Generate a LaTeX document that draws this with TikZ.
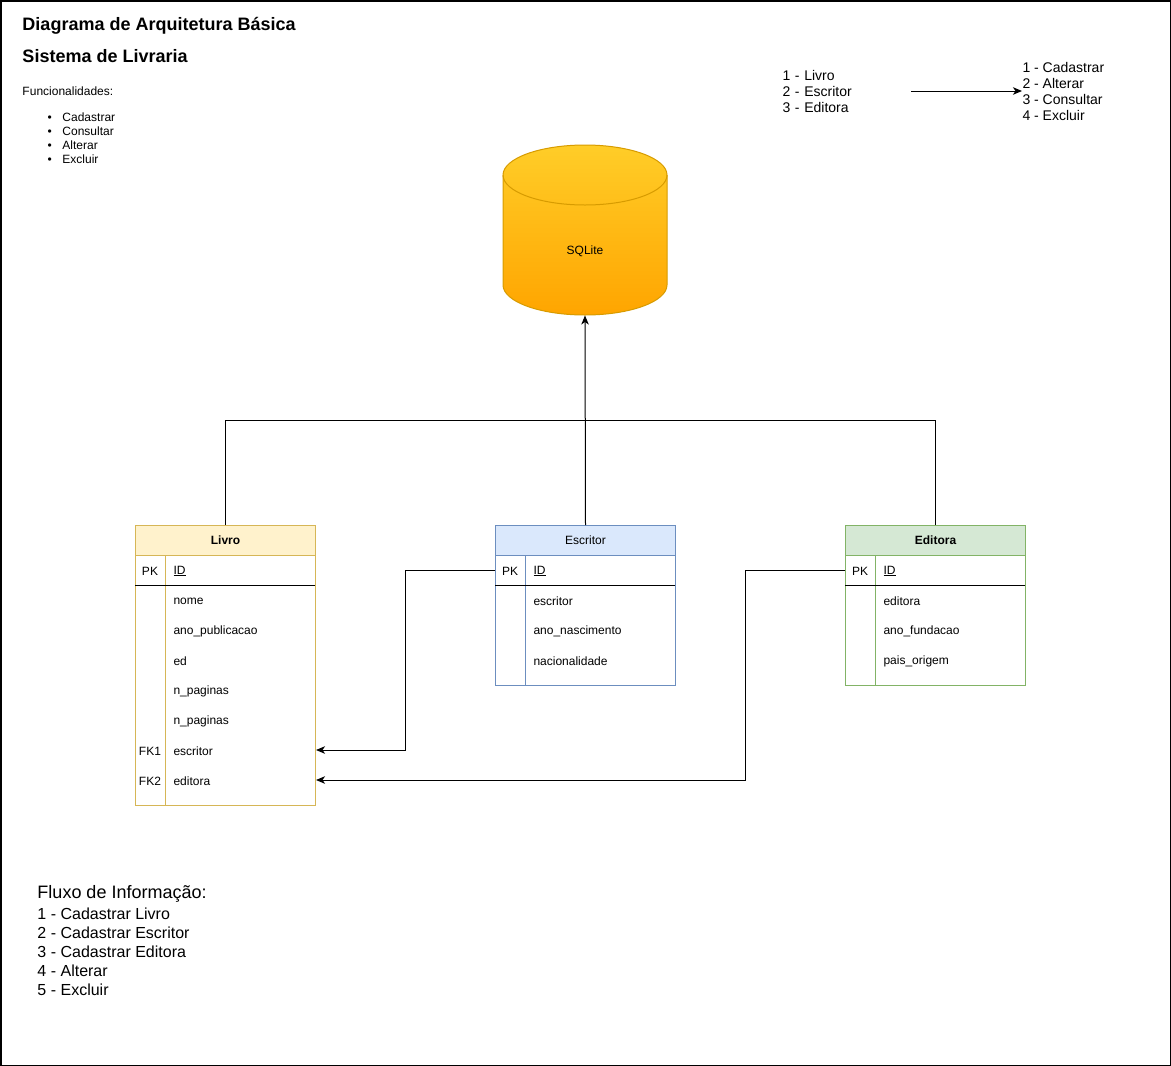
\documentclass[tikz,border=0pt]{standalone}
\usepackage{fontspec}
\setmainfont{Liberation Sans}
\usetikzlibrary{arrows.meta}
\definecolor{livroFill}{HTML}{FFF2CC}
\definecolor{livroLine}{HTML}{D6B656}
\definecolor{escFill}{HTML}{DAE8FC}
\definecolor{escLine}{HTML}{6C8EBF}
\definecolor{editFill}{HTML}{D5E8D4}
\definecolor{editLine}{HTML}{82B366}
\definecolor{dbTop}{HTML}{FFCD28}
\definecolor{dbBot}{HTML}{FFA500}
\definecolor{dbLine}{HTML}{D79B00}
\newcommand{\txtA}{\fontsize{12}{14}\selectfont}
\begin{document}
\begin{tikzpicture}[x=1pt,y=-1pt,line width=1pt,
  every node/.style={inner sep=0pt, font=\txtA},
  tblbody/.style={draw, fill=white, anchor=north west, minimum width=180pt},
  tblhead/.style={draw, anchor=north west, minimum width=180pt, minimum height=30pt, text depth=1pt},
  fld/.style={anchor=west, yshift=-1pt},
  keycol/.style={anchor=center, text height=10.6pt, text depth=0pt},
  link/.style={draw=black, line width=1pt},
  arr/.style={link, -{Stealth[length=9pt,width=7.5pt,inset=2.5pt]}},
  heading/.style={anchor=west, yshift=-2pt, font=\fontsize{18}{20}\selectfont\bfseries},
]
\useasboundingbox (0,0) rectangle (1171,1066);
\draw[line width=1.5pt] (0.75,0.75) rectangle (1170.25,1065.25);

% headings and feature list
\node[heading] (title) at (22,24) {Diagrama de Arquitetura Básica};
\node[heading] (subtitle) at (22,54) {Sistema de Livraria};
\node[anchor=west, yshift=-1pt] (funcs) at (22,90) {Funcionalidades:};
\node[anchor=west, align=left, yshift=-1pt, font=\txtA] (funclist) at (47,137)
  {\makebox[15pt][l]{\textbullet}Cadastrar\\
   \makebox[15pt][l]{\textbullet}Consultar\\
   \makebox[15pt][l]{\textbullet}Alterar\\
   \makebox[15pt][l]{\textbullet}Excluir};

% entities and operations
\node[anchor=west, align=left, text width=128pt, font=\fontsize{14}{16}\selectfont] (ents) at (782,91)
  {1 - Livro\\2 - Escritor\\3 - Editora};
\node[anchor=west, align=left, font=\fontsize{14}{16}\selectfont] (ops) at (1022,91)
  {1 - Cadastrar\\2 - Alterar\\3 - Consultar\\4 - Excluir};
\draw[arr] (ents.east) -- (ops.west);

% database cylinder
\shadedraw[top color=dbTop, bottom color=dbBot, draw=dbLine]
  (503,175) -- (503,285)
  .. controls (503,301.57) and (539.71,315) .. (585,315)
  .. controls (630.29,315) and (667,301.57) .. (667,285)
  -- (667,175)
  .. controls (667,158.43) and (630.29,145) .. (585,145)
  .. controls (539.71,145) and (503,158.43) .. (503,175) -- cycle;
\draw[dbLine] (503,175) .. controls (503,191.57) and (539.71,205) .. (585,205)
  .. controls (630.29,205) and (667,191.57) .. (667,175);
\node[minimum width=164pt, minimum height=170pt] (db) at (585,230) {};
\node[yshift=-1pt] (dblabel) at (585,250) {SQLite};

% table Livro
\node[tblbody, draw=livroLine, minimum height=280pt] (livro) at (135,525) {};
\node[tblhead, fill=livroFill, draw=livroLine, font=\txtA\bfseries] (livro-h) at (135,525) {Livro};
\draw[livroLine] (165,555) -- (165,805);
\draw[black] (135,585) -- (315,585);
\node[keycol] (livro-pk) at (150,570) {PK};
\node[fld] (livro-id) at (173,570) {\underline{ID}};
\node[fld] (livro-f1) at (173,600) {nome};
\node[fld] (livro-f2) at (173,630) {ano\_publicacao};
\node[fld] (livro-f3) at (173,660) {ed};
\node[fld] (livro-f4) at (173,690) {n\_paginas};
\node[fld] (livro-f5) at (173,720) {n\_paginas};
\node[keycol] (livro-fk1) at (150,750) {FK1};
\node[fld] (livro-f6) at (173,750) {escritor};
\node[keycol] (livro-fk2) at (150,780) {FK2};
\node[fld] (livro-f7) at (173,780) {editora};

% table Escritor
\node[tblbody, draw=escLine, minimum height=160pt] (esc) at (495,525) {};
\node[tblhead, fill=escFill, draw=escLine] (esc-h) at (495,525) {Escritor};
\draw[escLine] (525,555) -- (525,685);
\draw[black] (495,585) -- (675,585);
\node[keycol] (esc-pk) at (510,570) {PK};
\node[fld] (esc-id) at (533,570) {\underline{ID}};
\node[fld] (esc-f1) at (533,600) {escritor};
\node[fld] (esc-f2) at (533,630) {ano\_nascimento};
\node[fld] (esc-f3) at (533,660) {nacionalidade};

% table Editora
\node[tblbody, draw=editLine, minimum height=160pt] (edit) at (845,525) {};
\node[tblhead, fill=editFill, draw=editLine, font=\txtA\bfseries] (edit-h) at (845,525) {Editora};
\draw[editLine] (875,555) -- (875,685);
\draw[black] (845,585) -- (1025,585);
\node[keycol] (edit-pk) at (860,570) {PK};
\node[fld] (edit-id) at (883,570) {\underline{ID}};
\node[fld] (edit-f1) at (883,600) {editora};
\node[fld] (edit-f2) at (883,630) {ano\_fundacao};
\node[fld] (edit-f3) at (883,660) {pais\_origem};

% tables to database
\coordinate (bus) at (585,420);
\draw[link] (livro-h.north) |- (bus);
\draw[link] (edit-h.north) |- (bus);
\draw[arr] (esc-h.north) -- (db.south);

% foreign keys
\draw[arr] (esc-pk -| esc.west) -- ++(-90,0) |- (livro-fk1 -| livro.east);
\draw[arr] (edit-pk -| edit.west) -- ++(-100,0) |- (livro-fk2 -| livro.east);

% information flow
\node[anchor=west, yshift=-2pt, font=\fontsize{18}{20}\selectfont] (flux) at (37,892) {Fluxo de Informação:};
\node[anchor=west, align=left, yshift=-1pt, font=\fontsize{16}{19}\selectfont] (fluxlist) at (37,951)
  {1 - Cadastrar Livro\\2 - Cadastrar Escritor\\3 - Cadastrar Editora\\4 - Alterar\\5 - Excluir};
\end{tikzpicture}
\end{document}
